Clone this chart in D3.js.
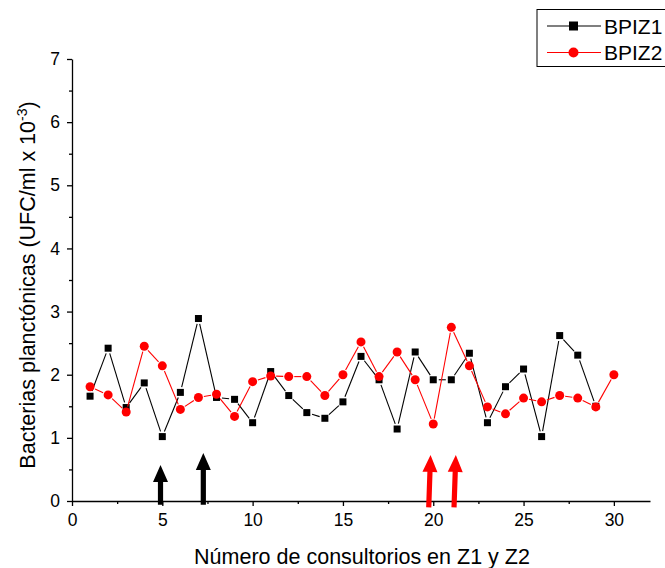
<!DOCTYPE html>
<html><head><meta charset="utf-8">
<script src="https://cdn.jsdelivr.net/npm/d3@7/dist/d3.min.js"></script>
<style>
html,body{margin:0;padding:0;background:#fff;overflow:hidden}
svg{display:block;font-family:"Liberation Sans",Arial,sans-serif}
</style></head><body>
<svg id="c" width="665" height="568"></svg>
<script>
// ---- data ----
const xBPIZ1 = [1,2,3,4,5,6,7,8,9,10,11,12,13,14,15,16,17,18,19,20,21,22,23,24,25,26,27,28,29];
const yBPIZ1 = [1.66,2.42,1.48,1.87,1.02,1.72,2.89,1.64,1.61,1.24,2.05,1.67,1.40,1.31,1.57,2.29,1.92,1.14,2.36,1.92,1.92,2.34,1.24,1.81,2.09,1.02,2.62,2.31,1.50];
const xBPIZ2 = [1,2,3,4,5,6,7,8,9,10,11,12,13,14,15,16,17,18,19,20,21,22,23,24,25,26,27,28,29,30];
const yBPIZ2 = [1.81,1.68,1.41,2.45,2.14,1.45,1.64,1.69,1.34,1.89,1.98,1.97,1.97,1.67,2.00,2.52,1.97,2.36,1.92,1.22,2.75,2.14,1.49,1.38,1.63,1.57,1.67,1.63,1.49,2.00];
const seriesNames = ["BPIZ1","BPIZ2"];
const xTicks = [0,5,10,15,20,25,30];
const xMinor = [2.5,7.5,12.5,17.5,22.5,27.5];
const yTicks = [0,1,2,3,4,5,6,7];
const yMinor = [0.5,1.5,2.5,3.5,4.5,5.5,6.5];
// annotation arrows: x position (bottom, top), y (bottom, tip)
const arrowXb = [4.9, 7.27, 19.75, 21.15];
const arrowXt = [4.9, 7.27, 19.85, 21.25];
const arrowY0 = [-0.06, -0.06, -0.1, -0.1];
const arrowY1 = [0.57, 0.76, 0.73, 0.73];
const arrowColors = ["#000","#000","#ff0000","#ff0000"];

// ---- layout ----
const svg = d3.select("#c");
const x = d3.scaleLinear().domain([0,32]).range([72,650]);
const y = d3.scaleLinear().domain([0,7]).range([501,59]);

function styleAxis(g){
  g.selectAll(".domain").attr("stroke","#000").attr("stroke-width",1.3);
  g.selectAll(".tick line").attr("stroke","#000").attr("stroke-width",1.3);
  g.selectAll("text").attr("fill","#000").style("font-size","17.5px").style("font-family","'Liberation Sans',Arial,sans-serif");
}
const gx = svg.append("g").attr("transform","translate(0,501)")
  .call(d3.axisBottom(x).tickValues(xTicks).tickSize(5).tickSizeOuter(0).tickPadding(8).tickFormat(d3.format("d")));
styleAxis(gx);
const gxm = svg.append("g").attr("transform","translate(0,501)")
  .call(d3.axisBottom(x).tickValues(xMinor).tickSize(3).tickSizeOuter(0).tickFormat(""));
styleAxis(gxm); gxm.select(".domain").remove();

const gy = svg.append("g").attr("transform","translate(72,0)")
  .call(d3.axisLeft(y).tickValues(yTicks).tickSize(5).tickSizeOuter(0).tickPadding(7).tickFormat(d3.format("d")));
styleAxis(gy);
const gym = svg.append("g").attr("transform","translate(72,0)")
  .call(d3.axisLeft(y).tickValues(yMinor).tickSize(3).tickSizeOuter(0).tickFormat(""));
styleAxis(gym); gym.select(".domain").remove();

// axis titles
svg.append("text").attr("x",362).attr("y",564).attr("text-anchor","middle")
  .style("font-size","21.5px").text("Número de consultorios en Z1 y Z2");
const yt = svg.append("text").attr("transform","translate(35,285) rotate(-90)").attr("text-anchor","middle")
  .style("font-size","21.5px");
yt.append("tspan").text("Bacterias planctónicas (UFC/ml x 10");
yt.append("tspan").attr("dy",-8).style("font-size","14px").text("-3");
yt.append("tspan").attr("dy",8).text(")");

// series lines with gaps near symbols
function gappedSegments(xs, ys, gap){
  const segs = [];
  for(let i=0;i<xs.length-1;i++){
    const x1=x(xs[i]), y1=y(ys[i]), x2=x(xs[i+1]), y2=y(ys[i+1]);
    const dx=x2-x1, dy=y2-y1, L=Math.hypot(dx,dy);
    if(L<=2*gap) continue;
    const ux=dx/L, uy=dy/L;
    segs.push([x1+ux*gap,y1+uy*gap,x2-ux*gap,y2-uy*gap]);
  }
  return segs;
}
function drawSeries(xs, ys, color, shape){
  const g = svg.append("g");
  g.selectAll("line").data(gappedSegments(xs,ys,5.5)).join("line")
    .attr("x1",d=>d[0]).attr("y1",d=>d[1]).attr("x2",d=>d[2]).attr("y2",d=>d[3])
    .attr("stroke",color).attr("stroke-width",1.1);
  const pts = xs.map((v,i)=>[v,ys[i]]);
  if(shape==="square"){
    g.selectAll("rect").data(pts).join("rect")
      .attr("x",d=>x(d[0])-3.5).attr("y",d=>y(d[1])-3.5).attr("width",7).attr("height",7).attr("fill",color);
  } else {
    g.selectAll("circle").data(pts).join("circle")
      .attr("cx",d=>x(d[0])).attr("cy",d=>y(d[1])).attr("r",4.5).attr("fill",color);
  }
}
drawSeries(xBPIZ1, yBPIZ1, "#000", "square");
drawSeries(xBPIZ2, yBPIZ2, "#ff0000", "circle");

// arrows
arrowXb.forEach((xb,i)=>{
  const bx=x(xb), by=y(arrowY0[i]), tx=x(arrowXt[i]), ty=y(arrowY1[i]);
  const dx=tx-bx, dy=ty-by, L=Math.hypot(dx,dy), ux=dx/L, uy=dy/L;
  const head=17, hw=7.5, sw=2.6;
  const hx=tx-ux*head, hy=ty-uy*head;
  const px=-uy, py=ux;
  const pts=[
    [bx+px*sw,by+py*sw],[hx+px*sw,hy+py*sw],[hx+px*hw,hy+py*hw],[tx,ty],
    [hx-px*hw,hy-py*hw],[hx-px*sw,hy-py*sw],[bx-px*sw,by-py*sw]
  ];
  svg.append("path").attr("d","M"+pts.map(p=>p.join(",")).join("L")+"Z").attr("fill",arrowColors[i]);
});

// legend
const lg = svg.append("g");
lg.append("rect").attr("x",537).attr("y",9.5).attr("width",160).attr("height",57)
  .attr("fill","#fff").attr("stroke","#000").attr("stroke-width",1);
const legColors=["#000","#ff0000"], legShapes=["square","circle"], legY=[26,52.5];
seriesNames.forEach((n,i)=>{
  lg.append("line").attr("x1",547).attr("x2",601).attr("y1",legY[i]).attr("y2",legY[i])
    .attr("stroke",legColors[i]).attr("stroke-width",1.1);
  if(legShapes[i]==="square") lg.append("rect").attr("x",569).attr("y",legY[i]-4.5).attr("width",9).attr("height",9).attr("fill",legColors[i]);
  else lg.append("circle").attr("cx",573.5).attr("cy",legY[i]).attr("r",5).attr("fill",legColors[i]);
  lg.append("text").attr("x",604).attr("y",legY[i]+7.5).style("font-size","21px").attr("fill","#000").text(n);
});
</script>
</body></html>
